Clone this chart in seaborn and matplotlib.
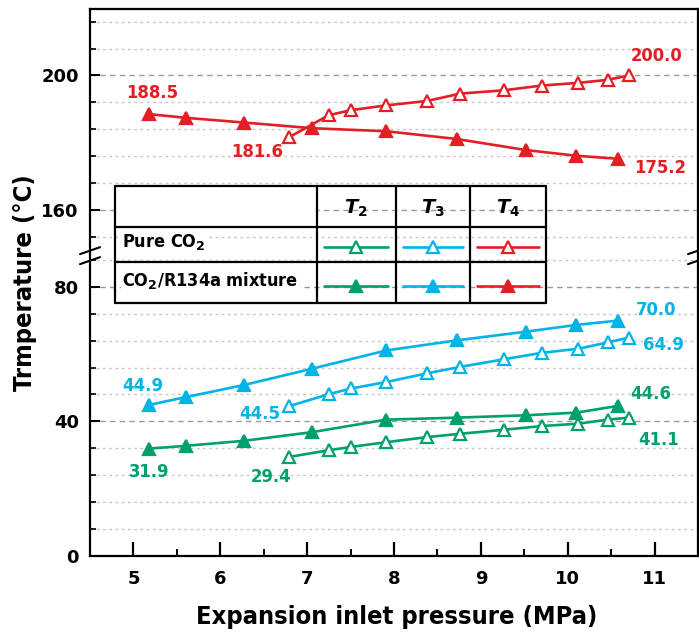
import numpy as np
import pandas as pd
import matplotlib
matplotlib.use("Agg")
import matplotlib.pyplot as plt
import seaborn as sns
from matplotlib.lines import Line2D
from matplotlib.patches import Rectangle
from matplotlib.ticker import FixedLocator

# ---------------- data ----------------
p_pure = [6.79, 7.25, 7.51, 7.91, 8.38, 8.76, 9.27, 9.70, 10.12, 10.46, 10.70]
p_mix = [5.18, 5.60, 6.27, 7.06, 7.91, 8.72, 9.52, 10.10, 10.58]

T2_pure = [29.4, 31.4, 32.4, 33.8, 35.3, 36.3, 37.5, 38.6, 39.3, 40.5, 41.1]
T3_pure = [44.5, 48.1, 49.8, 51.7, 54.3, 56.2, 58.5, 60.4, 61.6, 63.5, 64.9]
T4_pure = [181.6, 188.2, 189.7, 191.1, 192.4, 194.6, 195.6, 197.0, 197.8, 198.7, 200.0]

T2_mix = [31.9, 32.7, 34.2, 36.8, 40.5, 41.1, 41.8, 42.6, 44.6]
T3_mix = [44.9, 47.2, 50.8, 55.7, 61.1, 64.1, 66.7, 68.7, 70.0]
T4_mix = [188.5, 187.4, 186.0, 184.3, 183.4, 181.1, 177.8, 176.1, 175.2]

y_ticks = [0, 40, 80, 160, 200]
x_ticks = [5, 6, 7, 8, 9, 10, 11]

GREEN = "#00A06E"
BLUE = "#00B4E8"
RED = "#E31E24"

# ---------------- broken y scale ----------------
LOW_TOP, HIGH_BOT, EPS = 91.7, 148.8, 1e-3
GAP = (HIGH_BOT - LOW_TOP) * (1 - EPS)


def fwd(y):
    y = np.asarray(y, dtype=float)
    mid = LOW_TOP + (y - LOW_TOP) * EPS
    return np.where(y <= LOW_TOP, y, np.where(y >= HIGH_BOT, y - GAP, mid))


def inv(d):
    d = np.asarray(d, dtype=float)
    top_mid = LOW_TOP + (HIGH_BOT - LOW_TOP) * EPS
    mid = LOW_TOP + (d - LOW_TOP) / EPS
    return np.where(d <= LOW_TOP, d, np.where(d >= top_mid, d + GAP, mid))


sns.set_theme(style="ticks")
plt.rcParams["font.family"] = ["DejaVu Sans"]
plt.rcParams["font.weight"] = "bold"
for key in ("text.color", "axes.labelcolor", "xtick.color", "ytick.color", "axes.edgecolor"):
    plt.rcParams[key] = "black"
plt.rcParams["mathtext.fontset"] = "custom"
plt.rcParams["mathtext.rm"] = "DejaVu Sans:bold"
plt.rcParams["mathtext.it"] = "DejaVu Sans:italic:bold"
plt.rcParams["mathtext.bf"] = "DejaVu Sans:bold"

fig = plt.figure(figsize=(6.99, 6.37), dpi=100)
ax = fig.add_axes([0.1288, 0.1276, 0.8698, 0.8578])
ax.set_yscale("function", functions=(fwd, inv))

series = [
    (p_pure, T2_pure, GREEN, False), (p_pure, T3_pure, BLUE, False), (p_pure, T4_pure, RED, False),
    (p_mix, T2_mix, GREEN, True), (p_mix, T3_mix, BLUE, True), (p_mix, T4_mix, RED, True),
]
for xs, ys, col, filled in series:
    df = pd.DataFrame({"p": xs, "T": ys})
    sns.lineplot(data=df, x="p", y="T", ax=ax, color=col, lw=1.9, marker="^",
                 markersize=9, markeredgewidth=1.6, markeredgecolor=col,
                 markerfacecolor=col if filled else "white", zorder=3)

ax.set_xlim(4.5, 11.5)
ax.set_ylim(0, 219.7)
ax.xaxis.set_major_locator(FixedLocator(x_ticks))
ax.xaxis.set_minor_locator(FixedLocator(np.arange(4.5, 11.6, 0.5)))
ax.yaxis.set_major_locator(FixedLocator(y_ticks))
minor_y = list(range(8, 89, 8)) + list(range(152, 217, 8))
ax.yaxis.set_minor_locator(FixedLocator(minor_y))

ax.grid(which="major", axis="y", color="#9a9a9a", ls=(0, (4, 3)), lw=1.0)
ax.grid(which="minor", axis="y", color="#c8c8c8", ls=(0, (2, 2.5)), lw=1.0)
ax.grid(which="both", axis="x", visible=False)

ax.tick_params(axis="x", which="major", direction="in", length=10, width=1.6,
               labelsize=13, pad=10, top=False)
ax.tick_params(axis="x", which="minor", direction="in", length=5, width=1.4, top=False)
ax.tick_params(axis="y", which="major", direction="in", length=7, width=1.4,
               labelsize=13, pad=8, right=False)
ax.tick_params(axis="y", which="minor", direction="in", length=4, width=1.2, right=False)
for lab in ax.get_xticklabels() + ax.get_yticklabels():
    lab.set_fontweight("bold")
for sp in ax.spines.values():
    sp.set_linewidth(1.6)
    sp.set_color("black")

ax.set_xlabel("Expansion inlet pressure (MPa)", fontsize=18.3, fontweight="bold",
              fontstretch="condensed")
ax.xaxis.set_label_coords(0.504, -0.090)
ax.set_ylabel("Trmperature (°C)", fontsize=18.3, fontweight="bold", fontstretch="condensed")
ax.yaxis.set_label_coords(-0.088, 0.50)

# axis break marks
bk = ax.transAxes
for xa in (0.0, 1.0):
    for yb in (0.5583, 0.5400):
        ax.add_line(Line2D([xa - 0.0165, xa + 0.0165], [yb - 0.0064, yb + 0.0064],
                           transform=bk, color="black", lw=1.5, clip_on=False, zorder=5))

# value labels at the ends of each curve (offsets in pixels)
labels = [
    (p_mix[0], T4_mix[0], RED, 3, 21), (p_pure[0], T4_pure[0], RED, -32, -15),
    (p_pure[-1], T4_pure[-1], RED, 28, 19), (p_mix[-1], T4_mix[-1], RED, 42, -9),
    (p_mix[-1], T3_mix[-1], BLUE, 38, 11), (p_pure[-1], T3_pure[-1], BLUE, 35, -7),
    (p_mix[-1], T2_mix[-1], GREEN, 33, 12), (p_pure[-1], T2_pure[-1], GREEN, 30, -22),
    (p_mix[0], T3_mix[0], BLUE, -6, 19), (p_pure[0], T3_pure[0], BLUE, -29, -8),
    (p_mix[0], T2_mix[0], GREEN, 0, -23), (p_pure[0], T2_pure[0], GREEN, -18, -20),
]
for x, y, col, dx, dy in labels:
    ax.annotate(f"{y:.1f}", xy=(x, y), xytext=(dx, dy), textcoords="offset pixels",
                ha="center", va="center", color=col, fontsize=13.2, fontweight="bold",
                fontstretch="condensed", zorder=6)

# legend table
cols = [0.0411, 0.3729, 0.5028, 0.6250, 0.7500]
rows = [0.6766, 0.6021, 0.5381, 0.4625]
tk = dict(transform=ax.transAxes, clip_on=False, zorder=7)
ax.add_patch(Rectangle((cols[0], rows[1]), cols[1] - cols[0], rows[0] - rows[1],
                       facecolor="white", edgecolor="none", transform=ax.transAxes, zorder=6))
for c in cols:
    ax.add_line(Line2D([c, c], [rows[-1], rows[0]], color="black", lw=1.6, **tk))
for r in rows:
    ax.add_line(Line2D([cols[0], cols[-1]], [r, r], color="black", lw=1.6, **tk))

heads = ["$T_2$", "$T_3$", "$T_4$"]
for i, h in enumerate(heads):
    ax.text((cols[i + 1] + cols[i + 2]) / 2, (rows[0] + rows[1]) / 2 - 0.004, h,
            ha="center", va="center", fontsize=14, transform=ax.transAxes, zorder=8)

row_names = ["Pure CO$_2$", "CO$_2$/R134a mixture"]
for j, name in enumerate(row_names):
    yc = (rows[j + 1] + rows[j + 2]) / 2
    ax.text(cols[0] + 0.012, yc + 0.004, name, ha="left", va="center", fontsize=13,
            fontweight="bold", fontstretch="condensed", transform=ax.transAxes, zorder=8,
            bbox=dict(facecolor="white", edgecolor="none", pad=1))
    for i, col in enumerate([GREEN, BLUE, RED]):
        x0, x1 = cols[i + 1] + 0.012, cols[i + 2] - 0.012
        ym = yc - 0.006
        ax.add_line(Line2D([x0, x1], [ym, ym], color=col, lw=1.9, **tk))
        ax.add_line(Line2D([(x0 + x1) / 2], [ym], color=col, marker="^", markersize=9,
                           markeredgewidth=1.6, markeredgecolor=col,
                           markerfacecolor=col if j == 1 else "white", **tk))

fig.savefig("out.png", dpi=100)
